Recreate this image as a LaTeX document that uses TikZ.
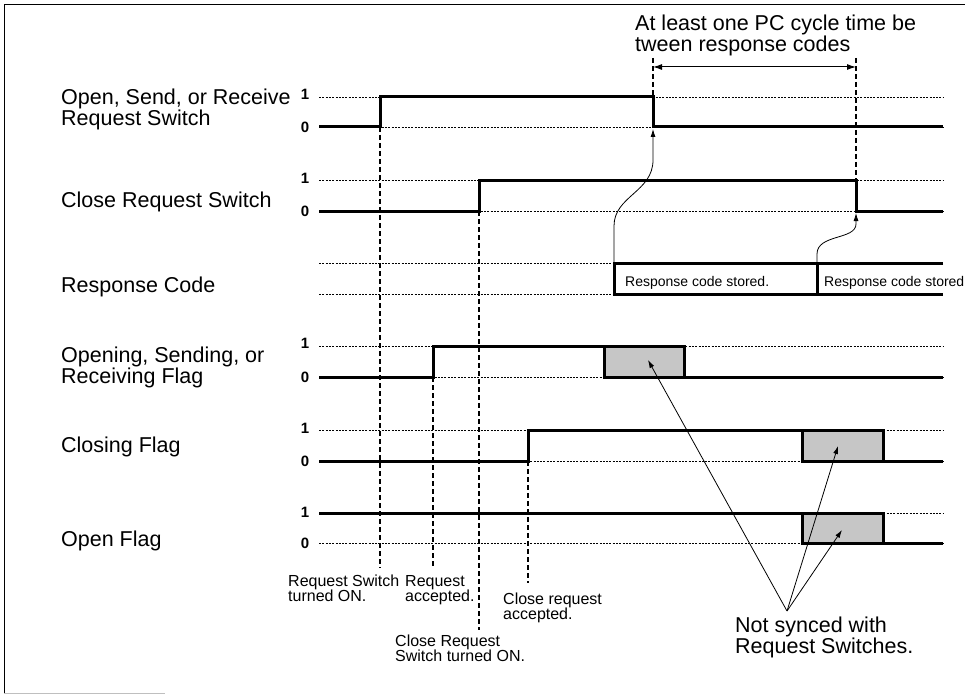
\documentclass[tikz,border=0pt]{standalone}
\usepackage{fontspec}
\setmainfont{Liberation Sans}
\usetikzlibrary{arrows.meta}

\begin{document}
\begin{tikzpicture}[x=1pt, y=-1pt, every node/.style={inner sep=0pt}, sig/.style={line width=3pt}, lvl/.style={line width=0.9pt, dash pattern=on 2pt off 1.3pt}, evt/.style={line width=1.1pt, dash pattern=on 5pt off 3pt}, flagbox/.style={sig, fill=gray!45}, sigtext/.style={anchor=west, align=left, font=\fontsize{21.5}{21}\selectfont}, note/.style={anchor=north west, align=left, font=\fontsize{16}{15}\selectfont}, bit/.style={font=\fontsize{15}{15}\selectfont\bfseries}, codetext/.style={anchor=base west, font=\fontsize{14}{14}\selectfont}, arrow/.style={-{Latex[length=8pt, width=5pt]}, line width=0.8pt}, dim/.style={{Latex[length=9pt, width=6pt]}-{Latex[length=9pt, width=6pt]}, line width=1pt}]
\useasboundingbox (0,0) rectangle (965,695);
\draw[line width=1pt] (4,693) -- (4,5) -- (965,5); \draw[gray!50, line width=1pt] (4,693) -- (165,693);
\node[sigtext] (reqsw) at (61,109) {Open, Send, or Receive\\Request Switch};
\node[sigtext] (closesw) at (61,202) {Close Request Switch};
\node[sigtext] (respcode) at (61,287) {Response Code};
\node[sigtext] (openingflag) at (61,367) {Opening, Sending, or\\Receiving Flag};
\node[sigtext] (closingflag) at (61,447) {Closing Flag};
\node[sigtext] (openflag) at (61,541) {Open Flag};
\node[bit] (reqsw1) at (305,94) {1}; \node[bit] (reqsw0) at (305,127) {0};
\node[bit] (closesw1) at (305,178) {1}; \node[bit] (closesw0) at (305,211) {0};
\node[bit] (opening1) at (305,343) {1}; \node[bit] (opening0) at (305,377) {0};
\node[bit] (closing1) at (305,428) {1}; \node[bit] (closing0) at (305,461) {0};
\node[bit] (open1) at (305,512) {1}; \node[bit] (open0) at (305,543) {0};
\draw[lvl] (319,97) -- (943,97); \draw[lvl] (319,127) -- (943,127); \draw[lvl] (319,180) -- (943,180); \draw[lvl] (319,211) -- (943,211);
\draw[lvl] (319,263) -- (614,263); \draw[lvl] (319,294) -- (614,294);
\draw[lvl] (319,346) -- (943,346); \draw[lvl] (319,377) -- (943,377); \draw[lvl] (319,430) -- (943,430); \draw[lvl] (319,461) -- (943,461); \draw[lvl] (319,513) -- (943,513); \draw[lvl] (319,543) -- (943,543);
\coordinate (swon) at (380,568); \coordinate (accepted) at (433,568); \coordinate (closeon) at (479,630); \coordinate (closeacc) at (528,583);
\coordinate (firstrc) at (653,58); \coordinate (secondrc) at (856,58);
\draw[evt] (380,127) -- (swon); \draw[evt] (433,377) -- (accepted); \draw[evt] (479,211) -- (closeon); \draw[evt] (528,461) -- (closeacc);
\draw[evt] (firstrc) -- (653,97); \draw[evt] (secondrc) -- (856,180);
\draw[sig] (319,127) -- (380,127) -- (380,97) -- (653,97) -- (653,127) -- (943,127);
\draw[sig] (319,211) -- (479,211) -- (479,180) -- (856,180) -- (856,211) -- (943,211);
\draw[sig] (943,263) -- (614,263) -- (614,294) -- (943,294); \draw[sig] (817,263) -- (817,294);
\draw[sig] (319,377) -- (433,377) -- (433,346) -- (684,346) -- (684,377) -- (943,377);
\draw[sig] (319,461) -- (528,461) -- (528,430) -- (883,430) -- (883,461) -- (943,461);
\draw[sig] (319,513) -- (883,513) -- (883,543) -- (943,543);
\draw[flagbox] (604,346) rectangle (684,377); \draw[flagbox] (802,430) rectangle (883,461); \draw[flagbox] (802,513) rectangle (883,543);
\node[codetext] (stored1) at (625,286) {Response code stored.};
\node[codetext] (stored2) at (824,286) {Response code stored};
\coordinate (rc1) at (614,263); \coordinate (rc2) at (817,263); \coordinate (fall1) at (653,129); \coordinate (fall2) at (856,213);
\draw[arrow] (rc1) -- (614,226) .. controls (614,196) and (653,192) .. (653,160) -- (fall1);
\draw[arrow] (rc2) -- (817,254) .. controls (817,234) and (856,240) .. (856,224) -- (fall2);
\draw[dim] ([yshift=-9pt]firstrc) -- ([yshift=-9pt]secondrc);
\node[anchor=north west, align=left, font=\fontsize{21.5}{20}\selectfont] (cycle) at (635,15) {At least one PC cycle time be\\tween response codes};
\node[note] (swonlabel) at (288,575) {Request Switch\\turned ON.};
\node[note] (acclabel) at (405,575) {Request\\accepted.};
\node[note] (closeonlabel) at (395,635) {Close Request\\Switch turned ON.};
\node[note] (closeacclabel) at (503,593) {Close request\\accepted.};
\node[anchor=north west, align=left, font=\fontsize{21.5}{21}\selectfont] (notsync) at (735,617) {Not synced with\\Request Switches.};
\coordinate (nsfoot) at (787,611); \coordinate (box1) at (648,360); \coordinate (box2) at (838,446); \coordinate (box3) at (842,530);
\draw[arrow] (nsfoot) -- (box1); \draw[arrow] (nsfoot) -- (box2); \draw[arrow] (nsfoot) -- (box3);
\end{tikzpicture}
\end{document}
